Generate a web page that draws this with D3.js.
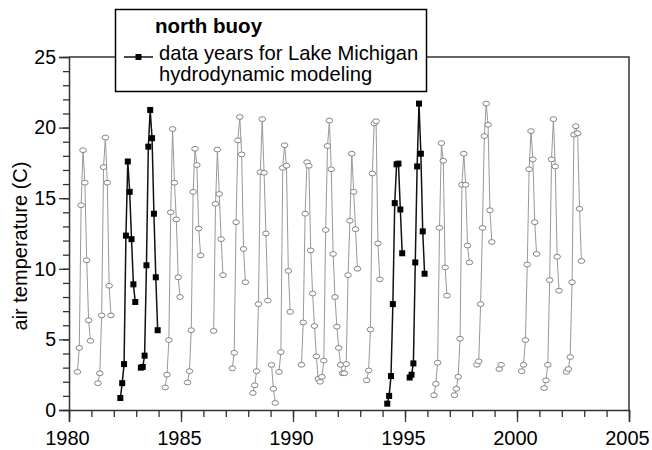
<!DOCTYPE html>
<html>
<head>
<meta charset="utf-8">
<script src="https://cdn.jsdelivr.net/npm/d3@7/dist/d3.min.js"></script>
<style>
  body { margin: 0; background: #fff; }
  svg text { font-family: "Liberation Sans", Arial, sans-serif; fill: #000; }
</style>
</head>
<body>
<svg id="chart" width="652" height="450"></svg>
<script>
const width = 652;
const height = 450;
const margin = { top: 57, right: 23, bottom: 40, left: 69 };

// monthly air temperature, Jan..Dec, null = no data (line breaks there)
const grayYears = [1980, 1981, 1984, 1985, 1986, 1987, 1988, 1989, 1990, 1991,
  1992, 1993, 1996, 1997, 1998, 1999, 2000, 2001, 2002];
const grayTemps = [
  [null, null, null, null, 2.7, 4.4, 14.5, 18.4, 16.1, 10.6, 6.35, 4.9],
  [null, null, null, 1.9, 2.6, 6.7, 17.2, 19.3, 16.1, 8.8, 6.7, null],
  [null, null, null, 1.6, 2.5, 4.95, 14.0, 19.9, 16.1, 13.5, 9.4, 8.0],
  [null, null, null, 1.95, 2.75, 5.65, 15.45, 18.5, 17.35, 12.85, 10.95, null],
  [null, null, null, null, null, 5.6, 14.6, 18.45, 15.3, 12.1, 9.55, null],
  [null, null, null, 2.95, 4.05, 13.3, 19.1, 20.75, 18.1, 11.4, 9.05, null],
  [null, null, 1.2, 1.75, 2.75, 7.5, 16.85, 20.6, 16.8, 12.5, 7.75, null],
  [3.2, 1.5, 0.5, null, 2.7, 4.1, 17.15, 18.75, 17.3, 9.85, 6.95, null],
  [null, null, null, null, 3.2, 6.2, 13.9, 17.55, 17.3, 11.3, 8.25, 5.95],
  [3.8, 2.2, 2.0, 2.35, 3.5, 12.75, 18.7, 20.5, 17.05, 11.05, 8.0, 5.9],
  [4.4, 3.2, 2.6, 2.6, 3.25, 9.55, 13.4, 18.15, 15.45, 12.8, 10.0, null],
  [null, null, null, 2.1, 2.8, 5.7, 16.75, 20.3, 20.45, 11.8, 9.25, null],
  [null, null, null, 1.05, 1.85, 3.35, 12.9, 18.9, 17.65, 10.1, 8.1, null],
  [null, null, 1.05, 1.5, 2.35, 5.05, 15.95, 18.15, 15.95, 11.65, 10.45, null],
  [null, null, 3.2, 3.45, 7.5, 12.9, 19.4, 21.7, 20.2, 14.15, 11.9, null],
  [null, null, 2.9, 3.2, null, null, null, null, null, null, null, null],
  [null, null, 2.75, 3.2, 4.95, 10.3, 17.05, 19.75, 17.75, 13.3, 11.05, null],
  [null, null, 1.55, 2.1, 3.2, 9.2, 17.75, 20.6, 17.25, 10.85, 8.45, null],
  [null, null, 2.7, 2.9, 3.75, 9.05, 19.5, 20.1, 19.6, 14.25, 10.55, null]
];

// years used for the Lake Michigan hydrodynamic modeling
const blackYears = [1982, 1983, 1994, 1995];
const blackTemps = [
  [null, null, null, 0.85, 1.9, 3.25, 12.35, 17.6, 15.45, 12.1, 8.9, 7.65],
  [null, null, 3.0, 3.05, 3.85, 10.25, 18.65, 21.25, 19.25, 13.9, 9.4, 5.65],
  [null, null, 0.45, 1.0, 2.4, 7.5, 14.65, 17.4, 17.45, 14.2, 11.1, null],
  [null, null, 2.3, 2.5, 3.3, 10.45, 17.25, 21.7, 18.15, 12.65, 9.65, null]
];

const xTicks = [1980, 1985, 1990, 1995, 2000, 2005];
const yTicks = [0, 5, 10, 15, 20, 25];
const legendTitle = 'north buoy';
const legendLines = ['data years for Lake Michigan', 'hydrodynamic modeling'];
const yLabel = 'air temperature (C)';

// turn year rows into a flat monthly series
function toSeries(years, temps) {
  return years.flatMap((yr, i) =>
    temps[i].map((v, m) => ({ t: yr + (m + 0.5) / 12, v })));
}

const gray = toSeries(grayYears, grayTemps);
const black = toSeries(blackYears, blackTemps);

const xScale = d3.scaleLinear()
  .domain([1980, 2005])
  .range([margin.left, width - margin.right]);

const yScale = d3.scaleLinear()
  .domain([0, 25])
  .range([height - margin.bottom, margin.top]);

const svg = d3.select('#chart');
const axisColor = '#333';

// minor ticks
svg.append('g')
  .attr('transform', `translate(0, ${yScale(0)})`)
  .call(d3.axisBottom(xScale).tickValues(d3.range(1980, 2006)).tickSize(7).tickFormat(''))
  .call(g => g.select('.domain').remove());
svg.append('g')
  .attr('transform', `translate(${xScale(1980)}, 0)`)
  .call(d3.axisLeft(yScale).tickValues(d3.range(0, 26)).tickSize(6).tickFormat(''))
  .call(g => g.select('.domain').remove());

// major ticks + labels
const xAxis = svg.append('g')
  .attr('transform', `translate(0, ${yScale(0)})`)
  .call(d3.axisBottom(xScale).tickValues(xTicks).tickSize(12).tickPadding(8.5).tickFormat(d3.format('d')));
const yAxis = svg.append('g')
  .attr('transform', `translate(${xScale(1980)}, 0)`)
  .call(d3.axisLeft(yScale).tickValues(yTicks).tickSize(10).tickPadding(3));

svg.selectAll('.tick line').attr('stroke', axisColor).attr('stroke-width', 1.3);
svg.selectAll('.domain').attr('stroke', axisColor).attr('stroke-width', 1.5);
svg.selectAll('.tick text')
  .attr('font-family', '"Liberation Sans", Arial, sans-serif')
  .attr('fill', '#000');
xAxis.selectAll('.tick text').attr('font-size', 20).attr('dx', -2);
yAxis.selectAll('.tick text').attr('font-size', 19.5);

// top and right frame
svg.append('path')
  .attr('d', `M${xScale(1980)},${yScale(25)}H${xScale(2005)}V${yScale(0)}`)
  .attr('fill', 'none')
  .attr('stroke', axisColor)
  .attr('stroke-width', 1.5);

// y label
svg.append('text')
  .attr('transform', `translate(27, 246) rotate(-90)`)
  .attr('text-anchor', 'middle')
  .attr('font-size', 20)
  .text(yLabel);

const line = d3.line()
  .defined(d => d.v != null)
  .x(d => xScale(d.t))
  .y(d => yScale(d.v));

// gray series
svg.append('path')
  .datum(gray)
  .attr('d', line)
  .attr('fill', 'none')
  .attr('stroke', '#999')
  .attr('stroke-width', 1);

svg.append('g')
  .selectAll('ellipse')
  .data(gray.filter(d => d.v != null))
  .join('ellipse')
  .attr('cx', d => xScale(d.t))
  .attr('cy', d => yScale(d.v))
  .attr('rx', 3.3)
  .attr('ry', 2.4)
  .attr('fill', '#fff')
  .attr('stroke', '#777')
  .attr('stroke-width', 0.9);

// black series
svg.append('path')
  .datum(black)
  .attr('d', line)
  .attr('fill', 'none')
  .attr('stroke', '#111')
  .attr('stroke-width', 1.5);

svg.append('g')
  .selectAll('rect')
  .data(black.filter(d => d.v != null))
  .join('rect')
  .attr('x', d => xScale(d.t) - 3)
  .attr('y', d => yScale(d.v) - 3)
  .attr('width', 6)
  .attr('height', 6)
  .attr('fill', '#000');

// legend
const legend = svg.append('g');
legend.append('rect')
  .attr('x', 115.5).attr('y', 9.5)
  .attr('width', 311).attr('height', 82)
  .attr('fill', '#fff')
  .attr('stroke', '#000')
  .attr('stroke-width', 1.5);
legend.append('text')
  .attr('x', 155).attr('y', 33)
  .attr('font-size', 20.5)
  .attr('font-weight', 'bold')
  .text(legendTitle);
legend.append('line')
  .attr('x1', 124).attr('x2', 153)
  .attr('y1', 57).attr('y2', 57)
  .attr('stroke', '#111').attr('stroke-width', 1.5);
legend.append('rect')
  .attr('x', 135.5).attr('y', 54)
  .attr('width', 6).attr('height', 6)
  .attr('fill', '#000');
legend.selectAll('text.item')
  .data(legendLines)
  .join('text')
  .attr('class', 'item')
  .attr('x', 159)
  .attr('y', (d, i) => 59.5 + i * 21.5)
  .attr('font-size', 20.2)
  .text(d => d);
</script>
</body>
</html>
